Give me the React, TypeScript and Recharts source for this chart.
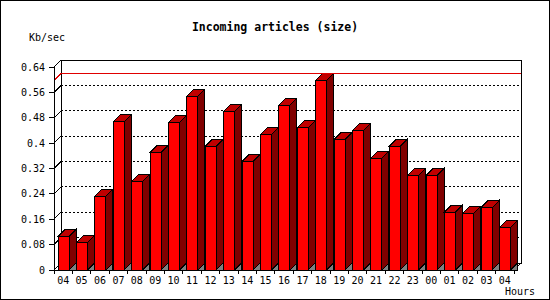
import React from "react";
import {
	BarChart,
	Bar,
	XAxis,
	YAxis,
	CartesianGrid,
	ReferenceArea,
	ReferenceLine,
} from "recharts";

// hourly incoming article volume (Kb/sec)
const hours = [
	"04", "05", "06", "07", "08", "09", "10", "11", "12", "13", "14", "15", "16",
	"17", "18", "19", "20", "21", "22", "23", "00", "01", "02", "03", "04",
];
const kbPerSec = [
	0.106, 0.087, 0.232, 0.468, 0.279, 0.371, 0.465, 0.547, 0.39, 0.5, 0.342, 0.427, 0.519,
	0.449, 0.597, 0.412, 0.44, 0.352, 0.39, 0.298, 0.298, 0.182, 0.179, 0.197, 0.134,
];
const yTicks = [0, 0.08, 0.16, 0.24, 0.32, 0.4, 0.48, 0.56, 0.64];

const data = hours.map((hour, i) => ({ hour, kbps: kbPerSec[i] }));
const peak = Math.max(...kbPerSec);

const W = 550;
const H = 300;
const DEPTH = 7;
const PLOT_LEFT = 54;
const PLOT_RIGHT = 514;
const PLOT_BOTTOM = 270;
const SLOT = (PLOT_RIGHT - PLOT_LEFT) / hours.length;
const FONT = "'DejaVu Sans Mono', monospace";

const fmt = (v: number) => String(Number(v.toFixed(2)));

// back wall, side edges of the 3d box
const Box = (props: any) => {
	const { x, y, width, height } = props;
	const d = DEPTH;
	return (
		<g shapeRendering="crispEdges">
			<rect x={x + d} y={y - d} width={width} height={height} fill="none" stroke="#000" />
			<line x1={x} y1={y} x2={x + d} y2={y - d} stroke="#000" />
			<line x1={x} y1={y + height} x2={x + d} y2={y + height - d} stroke="#000" />
			<line x1={x + width} y1={y + height} x2={x + width + d} y2={y + height - d} stroke="#000" />
		</g>
	);
};

const GridLine = (props: any) => {
	const { x1, x2, y1 } = props;
	const d = DEPTH;
	return (
		<g key={props.key} shapeRendering="crispEdges">
			<line x1={x1} y1={y1} x2={x1 + d} y2={y1 - d} stroke="#000" />
			<line x1={x1 + d} y1={y1 - d} x2={x2 + d} y2={y1 - d} stroke="#000" strokeDasharray="2 2" />
		</g>
	);
};

const PeakLine = (props: any) => {
	const { x1, x2, y1 } = props;
	const d = DEPTH;
	return (
		<g shapeRendering="crispEdges">
			<line x1={x1} y1={y1} x2={x1 + d} y2={y1 - d} stroke="#e00000" />
			<line x1={x1 + d} y1={y1 - d} x2={x2 + d} y2={y1 - d} stroke="#e00000" />
		</g>
	);
};

const Bar3D = (props: any) => {
	const { x, y, width: w, height: h } = props;
	const d = DEPTH;
	const b = y + h;
	return (
		<g shapeRendering="crispEdges">
			<polygon points={`${x + w},${b} ${x + w + d},${b - d} ${x + w + d},${b}`} fill="#808080" stroke="#000" />
			<polygon
				points={`${x + w},${y} ${x + w + d},${y - d} ${x + w + d},${b - d} ${x + w},${b}`}
				fill="#800000"
				stroke="#000"
			/>
			<polygon points={`${x},${y} ${x + d},${y - d} ${x + w + d},${y - d} ${x + w},${y}`} fill="#c00000" stroke="#000" />
			<rect x={x} y={y} width={w} height={h} fill="#ff0000" stroke="#000" />
		</g>
	);
};

const HourTick = (props: any) => {
	const { x, payload, index } = props;
	const last = index === hours.length - 1;
	return (
		<g>
			<line x1={x - SLOT / 2} x2={x - SLOT / 2} y1={PLOT_BOTTOM} y2={PLOT_BOTTOM + 4} stroke="#000" shapeRendering="crispEdges" />
			{last && (
				<line x1={x + SLOT / 2} x2={x + SLOT / 2} y1={PLOT_BOTTOM} y2={PLOT_BOTTOM + 4} stroke="#000" shapeRendering="crispEdges" />
			)}
			<text x={x} y={PLOT_BOTTOM + 14} textAnchor="middle" fontSize={10} fontFamily={FONT} fill="#000">
				{payload.value}
			</text>
		</g>
	);
};

export default function App() {
	return (
		<div style={{ position: "relative", width: W, height: H, background: "#fff" }}>
			<style>{"body{margin:0}"}</style>
			<BarChart
				width={W}
				height={H}
				data={data}
				margin={{ top: 67, right: W - PLOT_RIGHT, bottom: 0, left: 0 }}
			>
				<CartesianGrid vertical={false} horizontal={GridLine} />
				<ReferenceArea y1={0} y2={0.64} shape={Box} ifOverflow="visible" />
				<ReferenceLine y={peak} shape={PeakLine} />
				<XAxis
					dataKey="hour"
					height={H - PLOT_BOTTOM}
					interval={0}
					tickLine={false}
					axisLine={{ stroke: "#000", shapeRendering: "crispEdges" }}
					tick={HourTick}
				/>
				<YAxis
					width={PLOT_LEFT}
					domain={[0, 0.64]}
					ticks={yTicks}
					tickFormatter={fmt}
					tickSize={5}
					tickMargin={4}
					axisLine={{ stroke: "#000", shapeRendering: "crispEdges" }}
					tickLine={{ stroke: "#000", shapeRendering: "crispEdges" }}
					tick={{ fontSize: 10, fontFamily: FONT, fill: "#000" }}
				/>
				<Bar dataKey="kbps" barSize={11} shape={Bar3D} isAnimationActive={false} />
			</BarChart>
			<svg
				width={W}
				height={H}
				style={{ position: "absolute", left: 0, top: 0, pointerEvents: "none" }}
			>
				<rect x={0.5} y={0.5} width={W - 1} height={H - 1} fill="none" stroke="#000" />
				<text x={W / 2} y={31} textAnchor="middle" fontSize={11.5} fontWeight="bold" fontFamily={FONT}>
					Incoming articles (size)
				</text>
				<text x={29} y={41} fontSize={10} fontFamily={FONT}>
					Kb/sec
				</text>
				<text x={535} y={295} textAnchor="end" fontSize={10} fontFamily={FONT}>
					Hours
				</text>
			</svg>
		</div>
	);
}
